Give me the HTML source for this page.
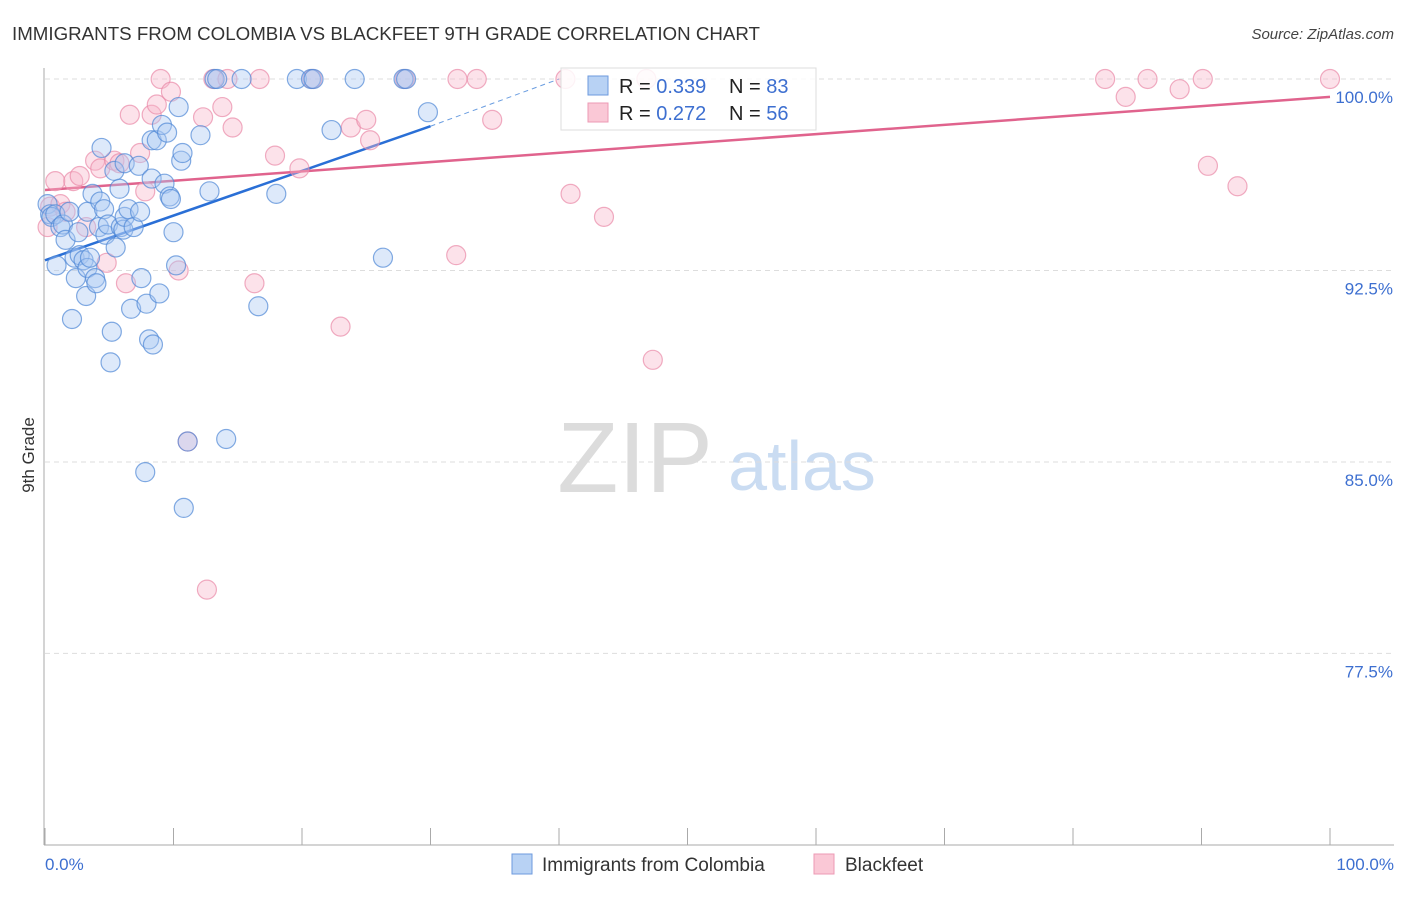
<!DOCTYPE html>
<html><head><meta charset="utf-8"><style>
body{margin:0;background:#fff;font-family:"Liberation Sans",sans-serif;}
svg text{font-family:"Liberation Sans",sans-serif;}
</style></head><body>
<svg id="chart" width="1406" height="892" xmlns="http://www.w3.org/2000/svg">
<text x="12" y="40" font-size="18" fill="#333" textLength="748" lengthAdjust="spacingAndGlyphs">IMMIGRANTS FROM COLOMBIA VS BLACKFEET 9TH GRADE CORRELATION CHART</text>
<text x="1394" y="39" font-size="15" fill="#444" text-anchor="end" font-style="italic">Source: ZipAtlas.com</text>
<g>
<text x="635" y="492" font-size="100" fill="#dcdcdc" text-anchor="middle" font-family="Liberation Serif, serif">ZIP</text>
<text x="802" y="490" font-size="70" fill="#cadcf2" text-anchor="middle">atlas</text>
</g>
<g id="grid"></g>
<g id="axes"></g>
<g id="lines"></g>
<g id="pts"></g>
<text transform="translate(34,455) rotate(-90)" font-size="17" fill="#333" text-anchor="middle">9th Grade</text>
<text x="45" y="870" font-size="17" fill="#3d6fd0">0.0%</text>
<text x="1394" y="870" font-size="17" fill="#3d6fd0" text-anchor="end">100.0%</text>
<g>
<rect x="561" y="68" width="255" height="62" fill="#fff" fill-opacity="0.85" stroke="#ddd"/>
<rect x="588" y="76" width="20" height="19" fill="#b8d2f4" stroke="#6d9ade"/>
<rect x="588" y="103" width="20" height="19" fill="#fac8d6" stroke="#ec9ab4"/>
<text x="619" y="93" font-size="20" fill="#222">R = <tspan fill="#3d6fd0">0.339</tspan></text>
<text x="729" y="93" font-size="20" fill="#222">N = <tspan fill="#3d6fd0">83</tspan></text>
<text x="619" y="120" font-size="20" fill="#222">R = <tspan fill="#3d6fd0">0.272</tspan></text>
<text x="729" y="120" font-size="20" fill="#222">N = <tspan fill="#3d6fd0">56</tspan></text>
</g>
<g>
<rect x="512" y="854" width="20" height="20" fill="#b8d2f4" stroke="#6d9ade"/>
<text x="542" y="871" font-size="19" fill="#333">Immigrants from Colombia</text>
<rect x="814" y="854" width="20" height="20" fill="#fac8d6" stroke="#ec9ab4"/>
<text x="845" y="871" font-size="19" fill="#333">Blackfeet</text>
</g>
</svg>
<script>
const yTicks=[100,92.5,85,77.5];
const yTickLabels=["100.0%","92.5%","85.0%","77.5%"];
const xTicks=[0,10,20,30,40,50,60,70,80,90,100];
const blueX=[0.2,0.4,0.5,0.8,0.9,1.2,1.4,1.6,1.9,2.1,2.3,2.4,2.6,2.7,3.0,3.2,3.3,3.3,3.5,3.7,3.9,4.0,4.2,4.3,4.4,4.6,4.7,4.9,5.1,5.2,5.4,5.5,5.8,5.9,6.1,6.2,6.2,6.5,6.7,6.9,7.3,7.4,7.5,7.8,7.9,8.1,8.3,8.3,8.4,8.7,8.9,9.1,9.3,9.5,9.7,9.8,10.0,10.2,10.4,10.6,10.7,10.8,11.1,12.1,12.8,13.2,13.4,14.1,15.3,16.6,18.0,19.6,20.7,20.9,22.3,24.1,26.3,27.9,28.1,29.8];
const blueY=[95.1,94.7,94.6,94.7,92.7,94.2,94.3,93.7,94.8,90.6,93.0,92.2,94.0,93.1,92.9,91.5,94.8,92.6,93.0,95.5,92.2,92.0,94.2,95.2,97.3,94.9,93.9,94.3,88.9,90.1,96.4,93.4,95.7,94.2,94.1,96.7,94.6,94.9,91.0,94.2,96.6,94.8,92.2,84.6,91.2,89.8,96.1,97.6,89.6,97.6,91.6,98.2,95.9,97.9,95.4,95.3,94.0,92.7,98.9,96.8,97.1,83.2,85.8,97.8,95.6,100,100,85.9,100,91.1,95.5,100,100,100,98.0,100,93.0,100,100,98.7];
const pinkX=[0.2,0.4,0.8,1.2,1.6,2.2,2.7,3.2,3.9,4.3,4.8,5.4,5.8,6.3,6.6,7.4,7.8,8.3,8.7,9.0,9.8,10.4,11.1,12.3,12.6,13.1,13.8,14.2,14.6,16.3,16.7,17.9,19.8,20.8,23.0,23.8,25.0,25.3,28.0,32.0,32.1,33.6,34.8,40.5,40.9,43.5,46.8,47.3,82.5,84.1,85.8,88.3,90.1,90.5,92.8,100];
const pinkY=[94.2,95.0,96.0,95.1,94.8,96.0,96.2,94.2,96.8,96.5,92.8,96.8,96.7,92.0,98.6,97.1,95.6,98.6,99.0,100,99.5,92.5,85.8,98.5,80.0,100,98.9,100,98.1,92.0,100,97.0,96.5,100,90.3,98.1,98.4,97.6,100,93.1,100,100,98.4,100,95.5,94.6,100,89.0,100,99.3,100,99.6,100,96.6,95.8,100];
const blueTrend=[[0,92.9],[30,98.15]];
const blueTrendExt=[[30,98.15],[40,100]];
const pinkTrend=[[0,95.65],[100,99.3]];
const X=v=>45+v*12.85, Y=v=>79+(100-v)*25.53;
const NS="http://www.w3.org/2000/svg";
function mk(parent,tag,attrs){const e=document.createElementNS(NS,tag);for(const k in attrs)e.setAttribute(k,attrs[k]);document.getElementById(parent).appendChild(e);return e;}
yTicks.forEach((t,i)=>{
 const g=mk('grid','line',{x1:45,x2:1394,y1:Y(t),y2:Y(t),stroke:'#ddd','stroke-dasharray':'5,4'});
 
 
 const l=mk('grid','text',{x:1393,y:Y(t)+24,'font-size':17,fill:'#3d6fd0','text-anchor':'end'});
 l.textContent=yTickLabels[i];
 
 
});
const ax=mk('axes','line',{x1:44,x2:44,y1:68,y2:845,stroke:'#aaa'});


const bx=mk('axes','line',{x1:44,x2:1394,y1:845,y2:845,stroke:'#aaa'});


xTicks.forEach(t=>{
 const k=mk('axes','line',{x1:X(t),x2:X(t),y1:828,y2:845,stroke:'#aaa'});
 
 
});
function pts(xs,ys,fill,stroke,name){
 xs.forEach((x,i)=>{
  const c=mk('pts','circle',{cx:X(x),cy:Y(ys[i]),r:9.5,fill:fill,'fill-opacity':0.4,stroke:stroke,'stroke-opacity':0.7,'stroke-width':1.2});
  
  
 });
}
pts(pinkX,pinkY,'#f7b6ca','#e98aa8','blackfeet-point');
pts(blueX,blueY,'#a9c9f2','#4f87d6','colombia-point');
function ln(p,color,w,dash,name){
 const l=mk('lines','line',{x1:X(p[0][0]),y1:Y(p[0][1]),x2:X(p[1][0]),y2:Y(p[1][1]),stroke:color,'stroke-width':w});
 if(dash)l.setAttribute('stroke-dasharray',dash);
 
 
}
ln(blueTrend,'#2a6fd6',2.5,null,'colombia-trendline');
ln(blueTrendExt,'#6a9de0',1,'5,4','colombia-trendline-extension');
ln(pinkTrend,'#e0638d',2.5,null,'blackfeet-trendline');
</script>
</body></html>
